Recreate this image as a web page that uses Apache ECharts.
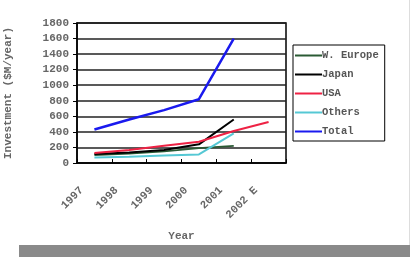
<!DOCTYPE html>
<html>
<head>
<meta charset="utf-8">
<script src="https://cdn.jsdelivr.net/npm/echarts@6/dist/echarts.min.js"></script>
<style>
html, body { margin: 0; padding: 0; background: #fff; }
#chart { width: 420px; height: 257px; }
</style>
</head>
<body>
<div id="chart"></div>
<script>
// 年份
var years = ['1997', '1998', '1999', '2000', '2001', '2002 E'];
// 各地区投资
var wEurope = [100, 120, 150, 190, 220, null];
var japan = [116, 135, 167, 240, 560, null];
var usa = [128, 167, 222, 274, 411, 527];
var others = [70, 80, 95, 110, 380, null];
var total = [430, 560, 680, 820, 1600, null];

var monoFont = '"Liberation Mono", "DejaVu Sans Mono", monospace';

function line(name, data, color, width) {
	return {
		name: name,
		type: 'line',
		data: data,
		symbol: 'none',
		color: color,
		lineStyle: { width: width, color: color }
	};
}

var chart = echarts.init(document.getElementById('chart'));

chart.setOption({
	animation: false,
	backgroundColor: '#fff',
	textStyle: { fontFamily: monoFont },
	//网格
	grid: {
		left: 77,
		right: 134,
		top: 23,
		bottom: 94,
		show: true,
		borderColor: '#000',
		borderWidth: 1.5,
		backgroundColor: '#fff'
	},
	//图例
	legend: {
		orient: 'vertical',
		left: 293,
		top: 45,
		padding: [5, 6, 4, 2],
		itemWidth: 27,
		itemHeight: 10,
		itemGap: 8,
		borderColor: '#000',
		borderWidth: 1,
		icon: 'path://M0,4 L27,4 L27,6 L0,6 Z',
		textStyle: { fontFamily: monoFont, fontSize: 10.5, color: '#555', fontWeight: 'bold', padding: [0, 0, 0, -5] },
		data: ['W. Europe', 'Japan', 'USA', 'Others', 'Total']
	},
	xAxis: {
		type: 'category',
		data: years,
		boundaryGap: true,
		name: 'Year',
		nameLocation: 'middle',
		nameGap: 68,
		nameTextStyle: { fontFamily: monoFont, fontSize: 11, color: '#666', fontWeight: 'bold' },
		axisLine: { lineStyle: { color: '#000', width: 1.5 } },
		axisTick: { show: true, inside: true, length: 4, lineStyle: { color: '#000' } },
		axisLabel: {
			rotate: 45,
			margin: 13,
			padding: [0, 18, 0, 0],
			fontFamily: monoFont,
			fontSize: 11,
			fontWeight: 'bold',
			color: '#666'
		}
	},
	yAxis: {
		type: 'value',
		min: 0,
		max: 1800,
		interval: 200,
		name: 'Investment ($M/year)',
		nameLocation: 'middle',
		nameGap: 63,
		nameTextStyle: { fontFamily: monoFont, fontSize: 11, color: '#666', fontWeight: 'bold' },
		axisLine: { show: true, lineStyle: { color: '#000', width: 1.5 } },
		axisTick: { show: true, length: 4, lineStyle: { color: '#000' } },
		axisLabel: {
			margin: 8,
			fontFamily: monoFont,
			fontSize: 11,
			color: '#666',
			fontWeight: 'bold',
			formatter: function (v) { return String(v); }
		},
		splitLine: { show: true, lineStyle: { color: '#222', width: 1.5 } }
	},
	series: [
		line('W. Europe', wEurope, '#2a5a34', 1.8),
		line('Japan', japan, '#000000', 2),
		line('USA', usa, '#ee2244', 2),
		line('Others', others, '#55c8d4', 2),
		line('Total', total, '#1a1aee', 2.5)
	],
	graphic: [
		{
			type: 'rect',
			shape: { x: 19, y: 245, width: 391, height: 12 },
			style: { fill: '#8a8a8a' }
		},
		{
			type: 'rect',
			shape: { x: 409, y: 0, width: 1, height: 245 },
			style: { fill: '#ddd' }
		}
	]
});
</script>
</body>
</html>
